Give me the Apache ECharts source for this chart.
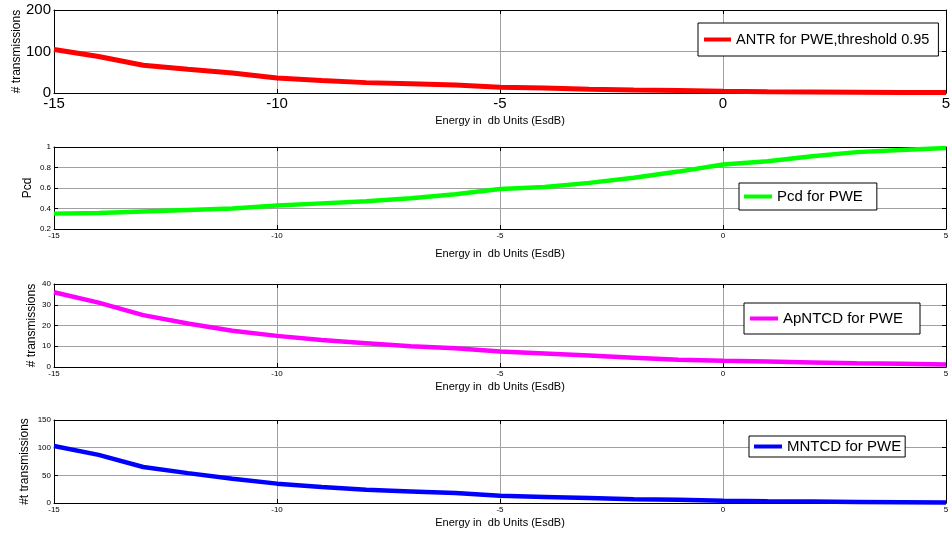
<!DOCTYPE html>
<html>
<head>
<meta charset="utf-8">
<script src="https://cdn.jsdelivr.net/npm/echarts@6/dist/echarts.min.js"></script>
<style>
  html, body { margin: 0; padding: 0; background: #fff; }
  #chart { width: 950px; height: 539px; }
</style>
</head>
<body>
<div id="chart"></div>
<script>
// Energy levels (EsdB)
const energy = [-15, -14, -13, -12, -11, -10, -9, -8, -7, -6, -5, -4, -3, -2, -1, 0, 1, 2, 3, 4, 5];

// Average number of transmissions, threshold 0.95
const antr = [105, 88, 67, 57, 48, 36, 30, 25, 22, 19, 14, 12, 9, 7, 6, 4, 3, 2.5, 2, 1.5, 1];
// Probability of correct detection
const pcd = [0.35, 0.355, 0.37, 0.385, 0.40, 0.43, 0.45, 0.47, 0.50, 0.54, 0.59, 0.61, 0.65, 0.70, 0.76, 0.83, 0.86, 0.91, 0.95, 0.97, 0.99];
// Average per-node transmissions until correct detection
const apntcd = [36, 31, 25, 21, 17.5, 15, 13, 11.5, 10, 9, 7.5, 6.5, 5.5, 4.5, 3.5, 3, 2.6, 2.2, 1.8, 1.6, 1.2];
// Mean number of transmissions until correct detection
const mntcd = [103, 87, 65, 54, 44, 35, 29, 24, 21, 18, 13, 11, 9, 7, 6, 4, 3, 2.5, 2, 1.5, 1];

const seriesNames = ['ANTR for PWE,threshold 0.95', 'Pcd for PWE', 'ApNTCD for PWE', 'MNTCD for PWE'];
const seriesColors = ['#ff0000', '#00ff00', '#ff00ff', '#0000ff'];
const seriesValues = [antr, pcd, apntcd, mntcd];

const yNames = ['# transmissions', 'Pcd', '# transmissions', '#t transmissions'];
const yMin = [0, 0.2, 0, 0];
const yMax = [200, 1, 40, 150];
const yStep = [100, 0.2, 10, 50];

const FONT = 'Liberation Sans, Arial, Helvetica, sans-serif';

// Panel layout
const panels = [
  { top: 10,  height: 83, tickFont: 15, xNameGap: 22, yNameGap: 31, lineW: 5 },
  { top: 147, height: 82, tickFont: 8,  xNameGap: 19, yNameGap: 20, lineW: 4.5 },
  { top: 284, height: 83, tickFont: 8,  xNameGap: 14, yNameGap: 16, lineW: 4.5 },
  { top: 420, height: 83, tickFont: 8,  xNameGap: 14, yNameGap: 23, lineW: 4.5 }
];

const legendBoxes = [
  { left: 698, top: 23,  padding: [9, 9, 9, 6], fontSize: 14.5, itemWidth: 27 },
  { left: 739, top: 183, padding: [6, 14, 6, 5], fontSize: 15, itemWidth: 28 },
  { left: 744, top: 303, padding: [8, 17, 8, 6], fontSize: 15, itemWidth: 28 },
  { left: 749, top: 436, padding: [3, 4, 3, 5], fontSize: 15, itemWidth: 28 }
];

const grid = [], xAxis = [], yAxis = [], series = [], legend = [];

panels.forEach((p, i) => {
  grid.push({ left: 54, right: 4, top: p.top, height: p.height, containLabel: false, outerBoundsMode: 'none' });

  const gridLine = { show: true, lineStyle: { color: '#a0a0a0', width: 1 } };
  const axisLine = { show: true, onZero: false, lineStyle: { color: '#000', width: 1 } };
  const tick = { show: true, inside: true, length: 4, lineStyle: { color: '#000' } };

  xAxis.push({
    type: 'value', gridIndex: i, min: -15, max: 5, interval: 5,
    name: 'Energy in  db Units (EsdB)', nameLocation: 'middle', nameGap: p.xNameGap,
    nameMoveOverlap: false,
    nameTextStyle: { color: '#000', fontSize: 11, fontFamily: FONT },
    axisLine, axisTick: tick, splitLine: gridLine,
    axisLabel: { color: '#000', fontSize: p.tickFont, fontFamily: FONT, margin: 3, showMaxLabel: true, showMinLabel: true }
  });
  yAxis.push({
    type: 'value', gridIndex: i, min: yMin[i], max: yMax[i], interval: yStep[i],
    name: yNames[i], nameLocation: 'middle', nameGap: p.yNameGap, nameRotate: 90,
    nameMoveOverlap: false,
    nameTextStyle: { color: '#000', fontSize: 12, fontFamily: FONT },
    axisLine, axisTick: tick, splitLine: gridLine,
    axisLabel: { color: '#000', fontSize: p.tickFont, fontFamily: FONT, margin: 3 }
  });
});

// mirrored box axes (top and right) carrying inward ticks only
panels.forEach((p, i) => {
  const axisLine = { show: true, onZero: false, lineStyle: { color: '#000', width: 1 } };
  const tick = { show: true, inside: true, length: 4, lineStyle: { color: '#000' } };
  xAxis.push({
    type: 'value', gridIndex: i, position: 'top', min: -15, max: 5, interval: 5,
    axisLine, axisTick: tick, splitLine: { show: false }, axisLabel: { show: false }
  });
  yAxis.push({
    type: 'value', gridIndex: i, position: 'right', min: yMin[i], max: yMax[i], interval: yStep[i],
    axisLine, axisTick: tick, splitLine: { show: false }, axisLabel: { show: false }
  });
});

seriesValues.forEach((vals, i) => {
  series.push({
    name: seriesNames[i], type: 'line', xAxisIndex: i, yAxisIndex: i,
    data: energy.map((e, k) => [e, vals[k]]),
    showSymbol: false, symbol: 'none',
    lineStyle: { color: seriesColors[i], width: panels[i].lineW },
    itemStyle: { color: seriesColors[i] },
    clip: true, z: 3
  });
  const lb = legendBoxes[i];
  legend.push({
    data: [seriesNames[i]], left: lb.left, top: lb.top,
    padding: lb.padding, orient: 'horizontal',
    backgroundColor: '#fff', borderColor: '#000', borderWidth: 1,
    icon: 'rect', itemWidth: lb.itemWidth, itemHeight: 4, selectedMode: false,
    textStyle: { color: '#000', fontSize: lb.fontSize, fontFamily: FONT }
  });
});

const chart = echarts.init(document.getElementById('chart'), null, { renderer: 'canvas' });
chart.setOption({
  animation: false,
  backgroundColor: '#fff',
  grid, xAxis, yAxis, series, legend
});
</script>
</body>
</html>
